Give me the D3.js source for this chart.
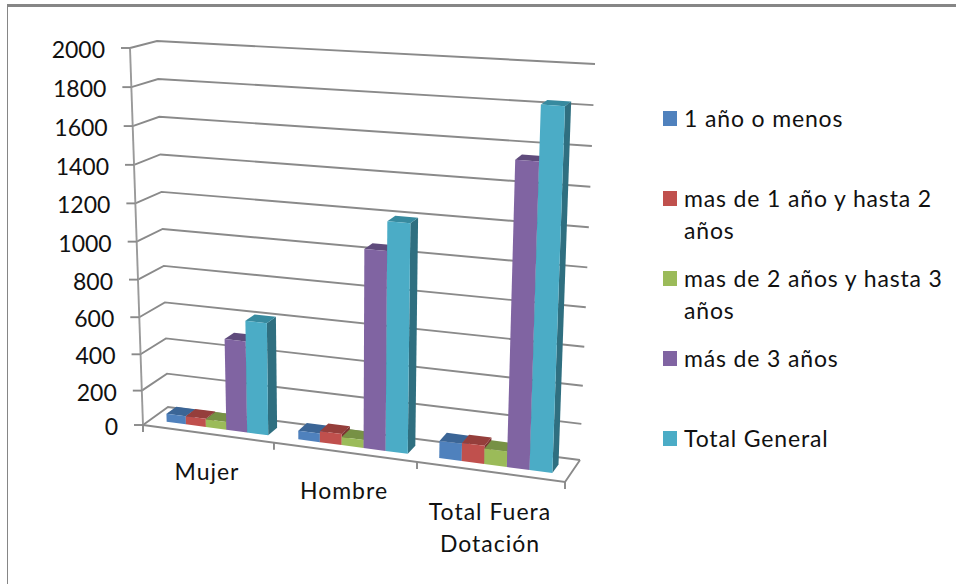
<!DOCTYPE html>
<html>
<head>
<meta charset="utf-8">
<script src="https://cdn.jsdelivr.net/npm/d3@7"></script>
<style>
    html, body { margin: 0; padding: 0; background: #fff; }
    svg { display: block; }
    text { font-family: Lato, "Open Sans", sans-serif; fill: #111; }
    .grid { fill: none; stroke: #8a8a8a; stroke-width: 1.9; }
    .axis { fill: none; stroke: #9a9a9a; stroke-width: 1.9; }
</style>
</head>
<body>
<svg id="chart" width="956" height="584"></svg>
<script>
var categories = ["Mujer", "Hombre", "Total Fuera Dotación"];
var seriesNames = ["1 año o menos", "mas de 1 año y hasta 2 años", "mas de 2 años y hasta 3 años", "más de 3 años", "Total General"];
var values1 = [49, 52, 98];
var values2 = [50, 65, 103];
var values3 = [47, 48, 88];
var values4 = [505, 1050, 1555];
var values5 = [615, 1200, 1830];
var yTicks = [0, 200, 400, 600, 800, 1000, 1200, 1400, 1600, 1800, 2000];

var allValues = [values1, values2, values3, values4, values5];
var frontColors = ["#4f81bd", "#c0504d", "#9bbb59", "#8064a2", "#4bacc6"];
var topColors = ["#3b6596", "#953e3b", "#779145", "#5f4b7c", "#378a9f"];
var sideColors = ["#31547e", "#7d3331", "#64773a", "#4e3c66", "#2f6f80"];

var svg = d3.select("#chart");

// corners of the plot box on screen: f = front, b = back, l/r = left/right, 0/1 = bottom/top
var box = {
    fl0: [143, 425], fr0: [565, 482], bl0: [168, 407], br0: [580, 460],
    fl1: [130, 48], fr1: [580, 75], bl1: [157, 41], br1: [595, 64]
};

// the perspective is faked by bending the scales a little
var xWarp = d3.scalePow().exponent(1.065).domain([0, 1]).range([0, 1]);
var yScale = d3.scalePow().exponent(1.04).domain([0, 2000]).range([0, 1]);
var xCategory = d3.scaleBand().domain(categories).range([0, 1]).paddingInner(0.22).paddingOuter(0.13).align(0.55);
var xSeries = d3.scaleBand().domain(d3.range(5)).range([0, xCategory.bandwidth()]);

function mix(a, b, t)
{
    return [a[0] + (b[0] - a[0]) * t, a[1] + (b[1] - a[1]) * t];
}

// u across, v up, w into the page, all 0..1
function project(u, v, w)
{
    var ux = xWarp(u);
    var bottom = mix(mix(box.fl0, box.fr0, ux), mix(box.bl0, box.br0, ux), w);
    var top = mix(mix(box.fl1, box.fr1, ux), mix(box.bl1, box.br1, ux), w);
    return mix(bottom, top, v);
}

var line = d3.line();

// gridlines: front left corner, back left corner, back right corner
svg.append("g").selectAll("path")
    .data(yTicks)
    .enter()
    .append("path")
    .attr("class", "grid")
    .attr("d", function(d)
    {
        var v = yScale(d);
        return line([project(0, v, 0), project(0, v, 1), project(1, v, 1)]);
    });

// vertical axis and its ticks
svg.append("path")
    .attr("class", "axis")
    .attr("d", line([project(0, 0, 0), project(0, 1, 0)]));

svg.append("g").selectAll("path")
    .data(yTicks)
    .enter()
    .append("path")
    .attr("class", "grid")
    .attr("d", function(d)
    {
        var p = project(0, yScale(d), 0);
        return line([[p[0] - 9, p[1]], p]);
    });

// floor
svg.append("path")
    .attr("class", "grid")
    .attr("d", line([project(0, 0, 0), project(1, 0, 0), project(1, 0, 1)]));

// category ticks on the front edge
svg.append("g").selectAll("path")
    .data(d3.range(categories.length + 1))
    .enter()
    .append("path")
    .attr("class", "grid")
    .attr("d", function(d)
    {
        var p = project(d / categories.length, 0, 0);
        return line([p, [p[0], p[1] + 7]]);
    });

// y labels
svg.append("g").selectAll("text")
    .data(yTicks)
    .enter()
    .append("text")
    .attr("text-anchor", "end")
    .attr("font-size", 23)
    .attr("x", function(d) { return project(0, yScale(d), 0)[0] - 25; })
    .attr("y", function(d) { return project(0, yScale(d), 0)[1] + 10; })
    .text(function(d) { return d; });

// bars, left to right so that each one hides the side of the previous
var wFront = 0.3, wBack = 0.7;

function face(points)
{
    return line(points) + "Z";
}

categories.forEach(function(cat, c)
{
    allValues.forEach(function(vals, s)
    {
        var u0 = xCategory(cat) + xSeries(s);
        var u1 = u0 + xSeries.bandwidth();
        var v = yScale(vals[c]);
        var g = svg.append("g");

        g.append("path")
            .attr("fill", sideColors[s])
            .attr("d", face([project(u1, 0, wFront), project(u1, 0, wBack), project(u1, v, wBack), project(u1, v, wFront)]));
        g.append("path")
            .attr("fill", topColors[s])
            .attr("d", face([project(u0, v, wFront), project(u1, v, wFront), project(u1, v, wBack), project(u0, v, wBack)]));
        g.append("path")
            .attr("fill", frontColors[s])
            .attr("d", face([project(u0, 0, wFront), project(u1, 0, wFront), project(u1, v, wFront), project(u0, v, wFront)]));
    });
});

// category labels are centred by hand, they do not sit on one line
var catLabels = [
    { lines: ["Mujer"], x: 207, y: 480 },
    { lines: ["Hombre"], x: 344, y: 499 },
    { lines: ["Total Fuera", "Dotación"], x: 490, y: 520 }
];

catLabels.forEach(function(d)
{
    d.lines.forEach(function(t, i)
    {
        svg.append("text")
            .attr("text-anchor", "middle")
            .attr("font-size", 23)
            .attr("letter-spacing", 1)
            .attr("x", d.x)
            .attr("y", d.y + i * 32)
            .text(t);
    });
});

// legend
var legendLines = [
    ["1 año o menos"],
    ["mas de 1 año y hasta 2", "años"],
    ["mas de 2 años y hasta 3", "años"],
    ["más de 3 años"],
    ["Total General"]
];
var legendY = d3.scalePoint().domain(d3.range(5)).range([127, 447]);

legendLines.forEach(function(lines, s)
{
    svg.append("rect")
        .attr("x", 663)
        .attr("y", legendY(s) - 16)
        .attr("width", 14)
        .attr("height", 15)
        .attr("fill", frontColors[s]);

    lines.forEach(function(t, i)
    {
        svg.append("text")
            .attr("font-size", 23)
            .attr("letter-spacing", 0.85)
            .attr("x", 684)
            .attr("y", legendY(s) + i * 32)
            .text(t);
    });
});

// frame
svg.append("rect").attr("x", 7).attr("y", 4).attr("width", 949).attr("height", 3).attr("fill", "#868686");
svg.append("rect").attr("x", 7).attr("y", 4).attr("width", 1).attr("height", 580).attr("fill", "#868686");
</script>
</body>
</html>
